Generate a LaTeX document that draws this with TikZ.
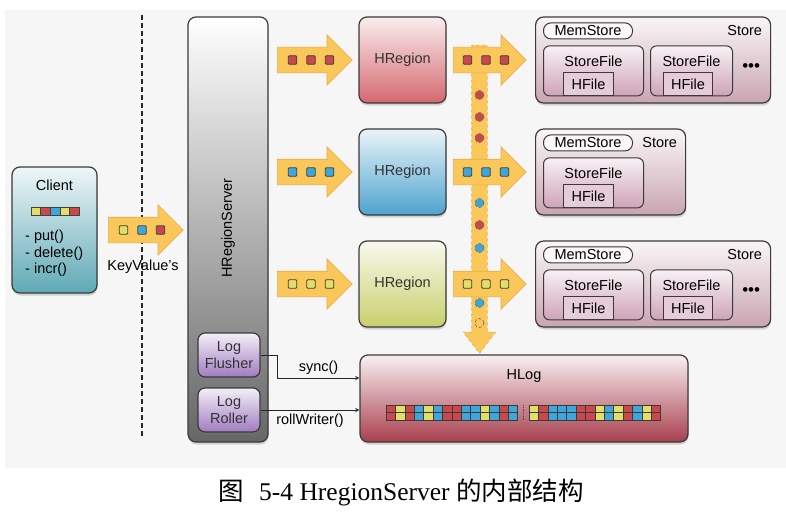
\documentclass[tikz,border=0pt]{standalone}
\usepackage{fontspec}
\setmainfont{Liberation Sans}
\newfontfamily\captionfont{Liberation Serif}
\newfontfamily\cjk{Noto Sans CJK SC}
\usetikzlibrary{shapes.arrows, shadows, arrows, positioning}

\definecolor{bggray}{HTML}{F6F6F6}
\definecolor{framegray}{HTML}{3A3A3A}
\definecolor{arrowyellow}{HTML}{F9C75A}
\definecolor{arrowedge}{HTML}{EBAA45}
\definecolor{kvred}{HTML}{C8484C}
\definecolor{kvblue}{HTML}{3EA6D8}
\definecolor{kvyellow}{HTML}{E2DE66}
\definecolor{regred}{HTML}{D4686F}
\definecolor{regblue}{HTML}{4EA3CF}
\definecolor{regyellow}{HTML}{C9CF6C}
\definecolor{clientteal}{HTML}{5FA9B6}
\definecolor{servergray}{HTML}{666666}
\definecolor{logpurple}{HTML}{A07CC0}
\definecolor{hlogred}{HTML}{A8404E}
\definecolor{storepink}{HTML}{C9A5B1}
\definecolor{filepink}{HTML}{CFA3B8}

\tikzstyle{box} = [rectangle, rounded corners=8pt, draw=framegray, line width=1.2pt,
  text=black!80, drop shadow={shadow xshift=0.5pt, shadow yshift=-2.5pt, opacity=0.3}]
\tikzstyle{region} = [box, minimum width=87pt, minimum height=86pt]
\tikzstyle{logbox} = [box, rounded corners=7pt, minimum width=62pt, minimum height=44pt,
  align=center, top color=logpurple!12!white, bottom color=logpurple]
\tikzstyle{storebox} = [box, minimum height=86pt, anchor=west,
  top color=storepink!10!white, bottom color=storepink]
\tikzstyle{filebox} = [rectangle, rounded corners=6pt, draw=framegray, line width=1pt,
  minimum height=50pt, anchor=north west, top color=filepink!15!white, bottom color=filepink]
\tikzstyle{hfilebox} = [rectangle, draw=framegray, line width=1pt, minimum width=50pt,
  minimum height=23pt, anchor=south, fill=filepink!55!white]
\tikzstyle{memstore} = [rectangle, rounded corners=7.5pt, draw=framegray, line width=1pt,
  minimum width=89pt, minimum height=16pt, inner sep=0pt, anchor=north west, fill=storepink!8!white]
\tikzstyle{fatarrow} = [single arrow, draw=arrowedge, fill=arrowyellow, line width=0.6pt,
  minimum height=75pt, minimum width=50pt, inner xsep=0pt, inner ysep=12.5pt,
  single arrow head extend=12.5pt, anchor=tail]
\tikzstyle{kv} = [rectangle, rounded corners=1pt, minimum size=8.5pt, inner sep=0pt, draw=black!75, line width=0.8pt]
\tikzstyle{walentry} = [circle, minimum size=9pt, inner sep=0pt, draw=black!60,
  densely dashed, line width=0.6pt]
\tikzstyle{callarrow} = [line width=0.9pt, draw=black!85, ->, >=stealth]

\begin{document}
\begin{tikzpicture}[x=1pt, y=-1pt, font=\fontsize{14.5}{16.5}\selectfont]
  \useasboundingbox (0,0) rectangle (786,511);
  \fill[bggray] (5,10) rectangle (786,468);
  \draw[black!85, line width=1.3pt, dash pattern=on 5pt off 3pt] (142,15) -- (142,438);

  % client
  \node (client) [box, minimum width=85pt, minimum height=126pt,
    top color=clientteal!10!white, bottom color=clientteal] at (54.5,230) {};
  \node (clienttitle) at (54.5,185) {Client};
  \foreach \i/\col in {0/kvyellow, 1/kvred, 2/kvblue, 3/kvyellow, 4/kvred}
    \filldraw[fill=\col, draw=black!75, line width=0.6pt] (31+9.6*\i,207) rectangle ++(9.6,8);
  \node (clientops) [align=left, anchor=north west, inner sep=0pt] at (25,230) {- put()\\- delete()\\- incr()};

  \node (kv) [fatarrow] at (108,230) {};
  \foreach \k/\dx/\col in {a/15.5/kvyellow, b/34/kvblue, c/52.5/kvred}
    \node (kvsq\k) [kv, fill=\col] at ([xshift=\dx pt]kv.tail) {};
  \node (kvlabel) at (143,267) {KeyValue's};

  % region server
  \node (server) [box, minimum width=80pt, minimum height=425pt,
    top color=white, bottom color=servergray] at (228,229.5) {};
  \node (servertext) [rotate=90] at (228,228) {HRegionServer};
  \node (flusher) [logbox] at (229,355) {Log\\Flusher};
  \node (roller) [logbox] at (229,410) {Log\\Roller};

  % regions
  \foreach \row/\ypos/\sqcol/\regcol in {1/60/kvred/regred, 2/172/kvblue/regblue, 3/284/kvyellow/regyellow} {
    \node (in\row) [fatarrow] at (277,\ypos) {};
    \foreach \k/\dx in {a/15.5, b/34, c/52.5}
      \node (insq\row\k) [kv, fill=\sqcol] at ([xshift=\dx pt]in\row.tail) {};
    \node (region\row) [region, top color=\regcol!12!white, bottom color=\regcol] at (402.5,\ypos) {HRegion};
  }

  % write path to the log
  \node (walbar) [fatarrow, rotate=-90, minimum height=308pt, minimum width=32pt, inner ysep=7.5pt,
    single arrow head extend=8.5pt, single arrow tip angle=75, dashed] at (479.5,45) {};
  \foreach \ypos/\col in {95/kvred, 117/kvred, 138/kvred, 203/kvblue, 225/kvred, 248/kvblue, 303/kvblue, 323/arrowyellow}
    \node (wal\ypos) [walentry, fill=\col] at (479.5,\ypos) {};
  \foreach \row/\ypos/\sqcol in {1/60/kvred, 2/172/kvblue, 3/284/kvyellow} {
    \node (out\row) [fatarrow, minimum height=73pt] at (453,\ypos) {};
    \foreach \k/\dx in {a/14.5, b/33, c/51.5}
      \node (outsq\row\k) [kv, fill=\sqcol] at ([xshift=\dx pt]out\row.tail) {};
  }

  % stores
  \foreach \st/\ypos/\storew in {1/60/235, 2/172/150, 3/284/235} {
    \node (store\st) [storebox, minimum width=\storew pt] at (535,\ypos) {};
    \node (mem\st) [memstore] at ([xshift=8pt, yshift=-6pt]store\st.north west) {MemStore};
    \node (storename\st) [anchor=east, inner sep=0pt] at ([xshift=-9pt, yshift=-14pt]store\st.north east) {Store};
    \node (sf\st a) [filebox, minimum width=100pt] at ([xshift=8pt, yshift=-29pt]store\st.north west) {};
    \node (sftext\st a) at ([yshift=-16pt]sf\st a.north) {StoreFile};
    \node (hf\st a) [hfilebox] at ([xshift=-5pt]sf\st a.south) {HFile};
  }
  \foreach \st in {1,3} {
    \node (sf\st b) [filebox, minimum width=82pt] at ([xshift=115pt, yshift=-29pt]store\st.north west) {};
    \node (sftext\st b) at ([yshift=-16pt]sf\st b.north) {StoreFile};
    \node (hf\st b) [hfilebox, minimum width=49pt] at ([xshift=-3.5pt]sf\st b.south) {HFile};
    \node (more\st) [font=\fontsize{17}{17}\selectfont] at ([xshift=-20pt, yshift=-51pt]store\st.north east) {\textbullet\textbullet\textbullet};
  }

  % hlog
  \node (hlog) [box, minimum width=328pt, minimum height=87pt,
    top color=hlogred!8!white, bottom color=hlogred] at (524,398.5) {};
  \node (hlogtitle) at ([yshift=-21.5pt]hlog.north) {HLog};
  \foreach \i/\col in {0/kvred, 1/kvyellow, 2/kvred, 3/kvblue, 4/kvyellow, 5/kvblue, 6/kvred,
      7/kvred, 8/kvblue, 9/kvblue, 10/kvyellow, 11/kvblue, 12/kvred, 13/kvblue} {
    \filldraw[fill=\col, draw=framegray, line width=0.5pt] (386+9.4*\i,405) rectangle ++(9.4,7.5);
    \filldraw[fill=\col, draw=framegray, line width=0.5pt] (386+9.4*\i,412.5) rectangle ++(9.4,7.5);
  }
  \foreach \i/\col in {0/kvyellow, 1/kvred, 2/kvblue, 3/kvblue, 4/kvblue, 5/kvred, 6/kvred,
      7/kvyellow, 8/kvblue, 9/kvyellow, 10/kvred, 11/kvblue, 12/kvyellow, 13/kvred} {
    \filldraw[fill=\col, draw=framegray, line width=0.5pt] (529+9.4*\i,405) rectangle ++(9.4,7.5);
    \filldraw[fill=\col, draw=framegray, line width=0.5pt] (529+9.4*\i,412.5) rectangle ++(9.4,7.5);
  }
  \draw[black!70, densely dotted, line width=0.8pt] (523,405) -- (523,420);

  \draw[callarrow] (flusher.east) -- ++(17,0) |- node[pos=0.75, above] (synclabel) {sync()} ([yshift=20.5pt]hlog.west);
  \draw[callarrow] (roller.east) -- node[below] (rolllabel) {rollWriter()} (roller.east -| hlog.west);

  \node (caption) at (401,492) {\fontsize{25.5}{28}\selectfont{\cjk 图}\hspace{0.6em}\captionfont 5-4 HregionServer {\cjk 的内部结构}};
\end{tikzpicture}
\end{document}
